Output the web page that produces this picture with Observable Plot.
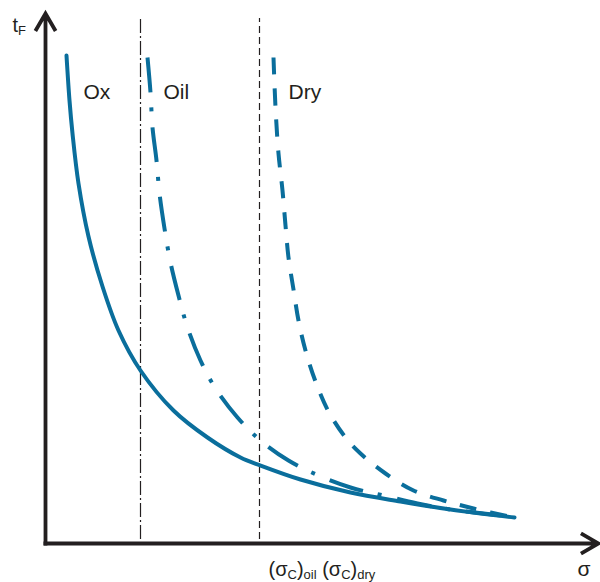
<!DOCTYPE html>
<html>
<head>
<meta charset="utf-8">
<script src="https://cdn.jsdelivr.net/npm/d3@7"></script>
<script src="https://cdn.jsdelivr.net/npm/@observablehq/plot@0.6"></script>
<style>
  body { margin: 0; background: #fff; }
  #chart svg { display: block; }
  .sublabel text { white-space: pre; }
</style>
</head>
<body>
<div id="chart"></div>
<script>
// Schematic: time to failure t_F versus stress σ (arbitrary units)
const oxSigma  = [21, 24, 27, 33, 43, 57, 73, 95, 128, 162, 195, 215, 255, 305, 355, 405, 469];
const oxT      = [488, 443, 410, 360, 307, 257, 213, 173, 133, 106, 86, 78, 64, 51, 42, 34, 26];

const oilSigma = [102, 105, 107, 111, 114, 119, 125, 133, 142, 155, 170, 192, 215, 243, 273, 305, 338, 372, 405, 465];
const oilT     = [486, 451, 416, 383, 350, 315, 281, 248, 216, 183, 155, 126, 103, 83, 68, 56, 48, 40, 34, 27];

const drySigma = [228, 230, 233, 237, 240, 243, 248, 253, 260, 270, 283, 300, 315, 340, 368, 398, 428, 468];
const dryT     = [486, 436, 390, 353, 318, 286, 254, 223, 193, 162, 132, 106, 90, 70, 53, 43, 35, 26];

const criticalSigma = [95, 214];          // (σC)oil, (σC)dry
const guideT = [4, 525];                  // extent of the vertical guides
const curveNames = ["Ox", "Oil", "Dry"];
const curveLabelSigma = [38, 118, 243];
const curveLabelT = [445, 445, 445];

const axisLines = [
  {x1: 0, y1: -2, x2: 0, y2: 530},        // t_F axis
  {x1: -2, y1: 0, x2: 553, y2: 0}         // σ axis
];

const subLabels = [
  {sigma: -33, t: 512, parts: [["t", 0], ["F", 1]]},
  {sigma: 223, t: -32, parts: [["(σ", 0], ["C", 1], [")", 0], ["oil", 1], [" (σ", 0], ["C", 1], [")", 0], ["dry", 1]]}
];
const sigmaLabel = [{sigma: 532, t: -32, text: "σ"}];

const blue = "#0a6e9c";
const ink = "#231f20";

const ox = oxSigma.map((s, i) => ({s, t: oxT[i]}));
const oil = oilSigma.map((s, i) => ({s, t: oilT[i]}));
const dry = drySigma.map((s, i) => ({s, t: dryT[i]}));

const chart = Plot.plot({
  width: 600,
  height: 582,
  marginLeft: 45,
  marginRight: 0,
  marginTop: 0,
  marginBottom: 39,
  x: {domain: [0, 555], axis: null},
  y: {domain: [0, 543], axis: null},
  style: {fontFamily: "'Liberation Sans', Arial, Helvetica, sans-serif", color: ink, background: "#fff"},
  marks: [
    Plot.ruleX([criticalSigma[0]], {x: d => d, y1: guideT[0], y2: guideT[1], stroke: ink, strokeWidth: 1.2, strokeDasharray: "14,3,2,3"}),
    Plot.ruleX([criticalSigma[1]], {x: d => d, y1: guideT[0], y2: guideT[1], stroke: ink, strokeWidth: 1.2, strokeDasharray: "7,4"}),
    Plot.line(ox, {x: "s", y: "t", curve: "catmull-rom", stroke: blue, strokeWidth: 4}),
    Plot.line(oil, {x: "s", y: "t", curve: "catmull-rom", stroke: blue, strokeWidth: 4, strokeDasharray: "35,15,4,16", strokeLinecap: "butt"}),
    Plot.line(dry, {x: "s", y: "t", curve: "catmull-rom", stroke: blue, strokeWidth: 4, strokeDasharray: "17,14", strokeLinecap: "butt"}),
    Plot.arrow(axisLines, {x1: "x1", y1: "y1", x2: "x2", y2: "y2", stroke: ink, strokeWidth: 3.8, headLength: 8, headAngle: 60, strokeLinecap: "butt", strokeLinejoin: "miter", strokeMiterlimit: 6}),
    Plot.text(curveNames, {x: (d, i) => curveLabelSigma[i], y: (d, i) => curveLabelT[i], text: d => d, textAnchor: "start", lineAnchor: "bottom", fontSize: 21, fill: ink}),
    Plot.text(subLabels, {x: "sigma", y: "t", text: d => d.parts.map(p => p[0]).join(""), textAnchor: "start", lineAnchor: "bottom", fontSize: 20, fill: ink, className: "sublabel"}),
    Plot.text(sigmaLabel, {x: "sigma", y: "t", text: "text", textAnchor: "start", lineAnchor: "bottom", fontSize: 21, fill: ink})
  ]
});

// turn the subscript parts into real tspans
d3.select(chart).selectAll(".sublabel text").each(function() {
  const i = d3.select(this).datum();
  const lab = subLabels[typeof i === "number" ? i : 0];
  const el = d3.select(this);
  el.text(null);
  let shifted = false;
  for (const [str, sub] of lab.parts) {
    const ts = el.append("tspan").text(str);
    if (sub && !shifted) { ts.attr("dy", 3.5); shifted = true; }
    else if (!sub && shifted) { ts.attr("dy", -3.5); shifted = false; }
    if (sub) ts.attr("font-size", 13);
  }
});

document.getElementById("chart").appendChild(chart);
</script>
</body>
</html>
